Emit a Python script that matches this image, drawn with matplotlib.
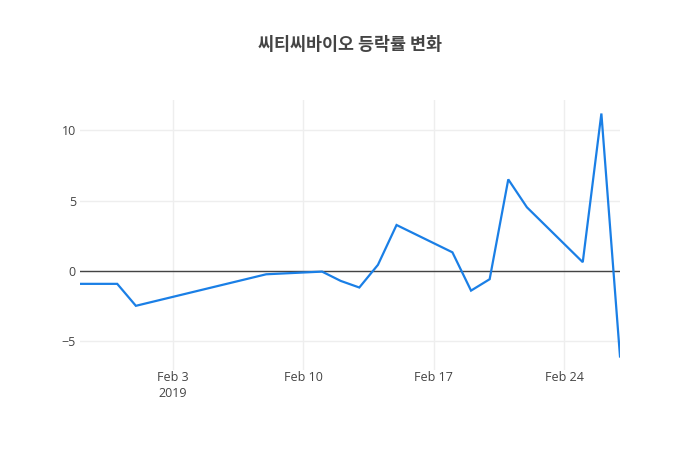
import numpy as np
import pandas as pd
import matplotlib
matplotlib.use('Agg')
import matplotlib.pyplot as plt

plt.rcParams['font.family'] = ['Noto Sans CJK KR', 'Open Sans', 'DejaVu Sans']

# 데이터
dates = ['2019-01-29', '2019-01-30', '2019-01-31', '2019-02-01', '2019-02-07',
         '2019-02-08', '2019-02-11', '2019-02-12', '2019-02-13', '2019-02-14',
         '2019-02-15', '2019-02-18', '2019-02-19', '2019-02-20', '2019-02-21',
         '2019-02-22', '2019-02-25', '2019-02-26', '2019-02-27']
change_pct = [-0.92, -0.92, -0.92, -2.48, -0.56,
              -0.24, -0.05, -0.71, -1.18, 0.43,
              3.26, 1.32, -1.40, -0.59, 6.50,
              4.52, 0.62, 11.18, -6.08]
title = '씨티씨바이오 등락률 변화'
y_ticks = [-5, 0, 5, 10]
x_ticks = ['2019-02-03', '2019-02-10', '2019-02-17', '2019-02-24']
x_tick_labels = ['Feb 3\n2019', 'Feb 10', 'Feb 17', 'Feb 24']

x = pd.to_datetime(dates)
y = np.array(change_pct)

fig = plt.figure(figsize=(7, 4.5), dpi=100)
ax = fig.add_axes([80 / 700, 80 / 450, 540 / 700, 270 / 450])

ax.plot(x, y, color='#1a7fe6', linewidth=1.6, zorder=3, solid_joinstyle='miter')
ax.axhline(0, color='#444444', linewidth=1, zorder=2)

# plotly식 5% 여백
span = y.max() - y.min()
pad = span * 13.5 / 243
ax.set_ylim(y.min() - pad, y.max() + pad)
ax.set_xlim(x[0], x[-1])

ax.set_yticks(y_ticks)
ax.set_yticklabels(['\u22125', '0', '5', '10'])
ax.set_xticks(pd.to_datetime(x_ticks))
ax.set_xticklabels(x_tick_labels, linespacing=1.3)

ax.grid(True, color='#eeeeee', linewidth=1, zorder=0)
for s in ax.spines.values():
    s.set_visible(False)
ax.tick_params(length=0, colors='#444444', labelsize=9)
ax.tick_params(axis='x', pad=1)
ax.tick_params(axis='y', pad=3)
for lbl in ax.get_yticklabels() + ax.get_xticklabels():
    lbl.set_family(['Open Sans', 'DejaVu Sans'])

fig.text(350 / 700, 1 - 45 / 450, title, ha='center', va='center',
         fontsize=12.5, fontweight='bold', color='#444444')

fig.savefig('out.png', dpi=100)
